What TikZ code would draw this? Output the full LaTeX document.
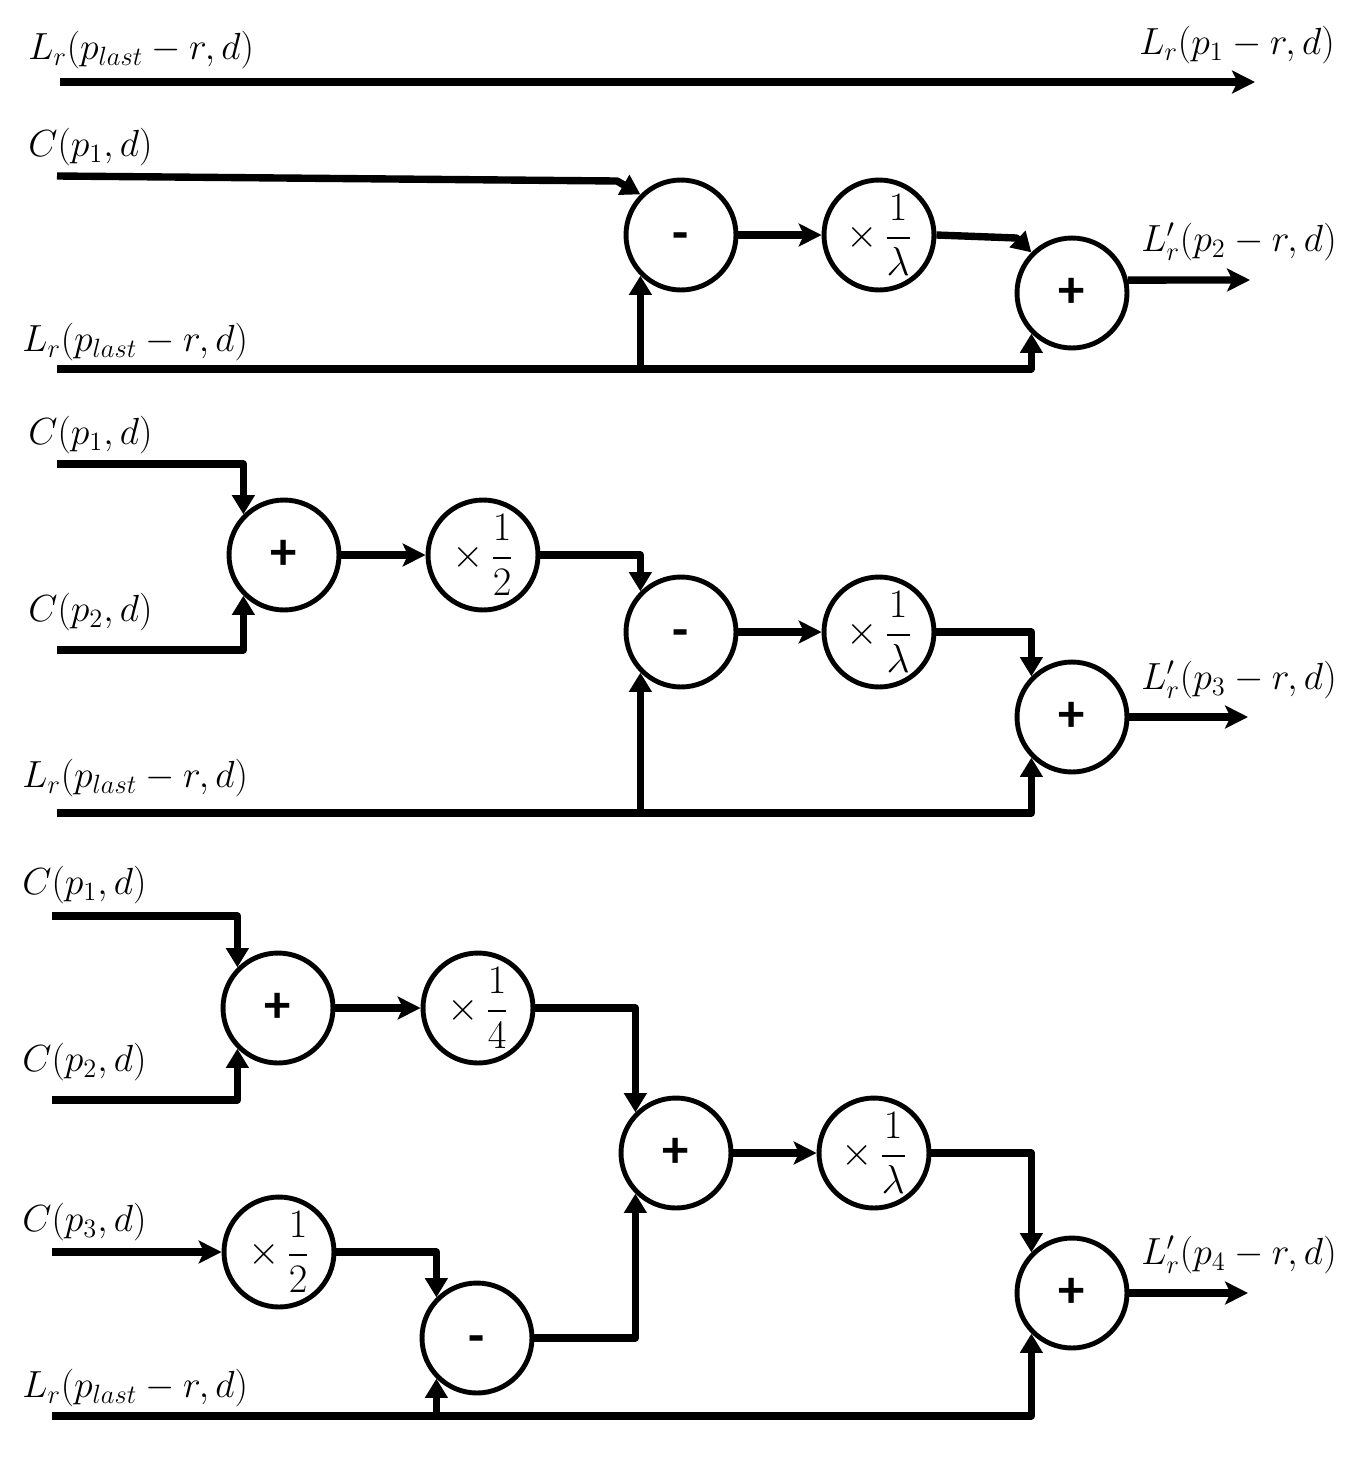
\RequirePackage{fix-cm}
\documentclass[tikz,border=0pt]{standalone}
\usepackage{amsmath}
\usepackage{fontspec}
\newfontfamily\signfont{Carlito}
\usetikzlibrary{arrows.meta}
\newcommand{\subsign}{\smash{\raisebox{-9pt}{-}}} % Minus sign, lowered to the circle's middle
\newcommand{\gainof}[1]{$\times\,\dfrac{1}{#1}$}
\tikzset{op/.style={ % Sets the properties for each summing circle
circle, draw,
line width=2.8pt,
minimum size=2.2cm,
inner sep=0pt,
font=\signfont\bfseries\fontsize{30}{32}\selectfont},
gain/.style={op, font=\fontsize{23}{27}\selectfont}, % Circles holding a factor
sig/.style={inner sep=0pt, font=\fontsize{21.5}{25}\selectfont}, % Signal names
wire/.style={line width=4.2pt, line join=round},
feed/.style={wire, -{Stealth[length=13pt,width=13pt,inset=3pt]}}, % Straight-on arrows
drop/.style={wire, -{Triangle[length=11pt,width=12.5pt]}}} % Arrows turning into a circle

\begin{document}
\begin{tikzpicture}[x=0.02cm, y=-0.02cm]
				\useasboundingbox (0,0) rectangle (1361,1461);

				% first row
				\coordinate (top in) at (60,82);
				\coordinate (top out) at (1255,82);
				\node[sig, anchor=west] (lr0) at (28,50) {$L_r(p_{last}-r,d)$};
				\node[sig, anchor=east] (lr1) at (1335,45) {$L_r(p_1-r,d)$};
				\draw[feed] (top in) -- (top out);

				% second row
				\node[op] (sub2) at (681,235) {\subsign};
				\node[gain] (lam2) at (879,235) {\gainof{\lambda}};
				\node[op] (add2) at (1072,293) {+};
				\coordinate (c2a) at (57,176);
				\coordinate (lr2) at (57,369);
				\coordinate (out2) at (1250,280);
				\node[sig, anchor=west] (c2a label) at (28,147) {$C(p_1,d)$};
				\node[sig, anchor=west] (lr2 label) at (22,342) {$L_r(p_{last}-r,d)$};
				\node[sig, anchor=east] (out2 label) at (1337,242) {$L'_r(p_2-r,d)$};

				\draw[drop] (c2a) -- ++(560,5) -- (sub2.135);
				\draw[feed] (sub2) -- (lam2);
				\draw[drop] (lam2.east) -- ++(80,3) -- (add2.135);
				\draw[feed] (add2.13) -- (out2);
				\draw[drop] (lr2) -| (add2.225);
				\draw[drop] (sub2.225 |- lr2) -- (sub2.225);

				% third row
				\node[op] (add3a) at (284,555) {+};
				\node[gain] (half3) at (483,555) {\gainof{2}};
				\node[op] (sub3) at (681,632) {\subsign};
				\node[gain] (lam3) at (879,632) {\gainof{\lambda}};
				\node[op] (add3b) at (1072,717) {+};
				\coordinate (c3a) at (57,464);
				\coordinate (c3b) at (57,650);
				\coordinate (lr3) at (57,813);
				\coordinate (out3) at (1248,717);
				\node[sig, anchor=west] (c3a label) at (28,435) {$C(p_1,d)$};
				\node[sig, anchor=west] (c3b label) at (28,612) {$C(p_2,d)$};
				\node[sig, anchor=west] (lr3 label) at (22,778) {$L_r(p_{last}-r,d)$};
				\node[sig, anchor=east] (out3 label) at (1337,680) {$L'_r(p_3-r,d)$};

				\draw[drop] (c3a) -| (add3a.135);
				\draw[drop] (c3b) -| (add3a.225);
				\draw[feed] (add3a) -- (half3);
				\draw[drop] (half3) -| (sub3.135);
				\draw[feed] (sub3) -- (lam3);
				\draw[drop] (lam3) -| (add3b.135);
				\draw[feed] (add3b) -- (out3);
				\draw[drop] (lr3) -| (add3b.225);
				\draw[drop] (sub3.225 |- lr3) -- (sub3.225);

				% fourth row
				\node[op] (add4a) at (278,1008) {+};
				\node[gain] (qtr4) at (478,1008) {\gainof{4}};
				\node[gain] (half4) at (279,1252) {\gainof{2}};
				\node[op] (sub4) at (477,1338) {\subsign};
				\node[op] (add4b) at (676,1153) {+};
				\node[gain] (lam4) at (874,1153) {\gainof{\lambda}};
				\node[op] (add4c) at (1072,1293) {+};
				\coordinate (c4a) at (52,916);
				\coordinate (c4b) at (52,1100);
				\coordinate (c4c) at (52,1252);
				\coordinate (lr4) at (52,1416);
				\coordinate (out4) at (1248,1293);
				\node[sig, anchor=west] (c4a label) at (22,885) {$C(p_1,d)$};
				\node[sig, anchor=west] (c4b label) at (22,1062) {$C(p_2,d)$};
				\node[sig, anchor=west] (c4c label) at (22,1222) {$C(p_3,d)$};
				\node[sig, anchor=west] (lr4 label) at (22,1388) {$L_r(p_{last}-r,d)$};
				\node[sig, anchor=east] (out4 label) at (1337,1255) {$L'_r(p_4-r,d)$};

				\draw[drop] (c4a) -| (add4a.135);
				\draw[drop] (c4b) -| (add4a.225);
				\draw[feed] (add4a) -- (qtr4);
				\draw[drop] (qtr4) -| (add4b.135);
				\draw[feed] (c4c) -- (half4);
				\draw[drop] (half4) -| (sub4.135);
				\draw[drop] (sub4) -| (add4b.225);
				\draw[feed] (add4b) -- (lam4);
				\draw[drop] (lam4) -| (add4c.135);
				\draw[feed] (add4c) -- (out4);
				\draw[drop] (lr4) -| (add4c.225);
				\draw[drop] (sub4.225 |- lr4) -- (sub4.225);
			\end{tikzpicture}
\end{document}
